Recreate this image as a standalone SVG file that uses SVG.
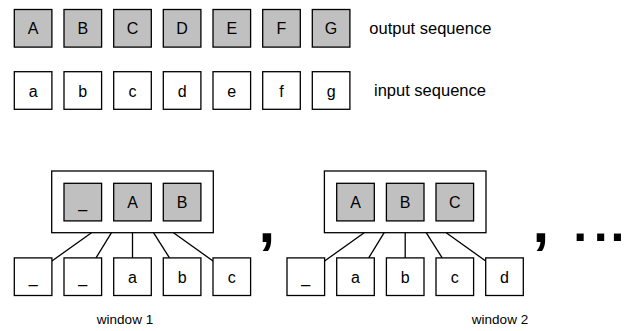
<svg xmlns="http://www.w3.org/2000/svg" width="629" height="331" viewBox="0 0 629 331">
<style>
.b{stroke:#000;stroke-width:1.3;}
.g{fill:#c0c0c0;}
.w{fill:#fff;}
.t{font-family:"Liberation Sans",Arial,sans-serif;font-size:16px;text-anchor:middle;fill:#000;}
.lab{font-family:"Liberation Sans",Arial,sans-serif;font-size:16.5px;fill:#000;}
.win{font-family:"Liberation Sans",Arial,sans-serif;font-size:13.5px;text-anchor:middle;fill:#000;}
.p{font-family:"Liberation Sans",Arial,sans-serif;font-size:50px;font-weight:bold;fill:#000;}
.cm{font-family:"Liberation Sans",Arial,sans-serif;font-size:60px;font-weight:bold;fill:#000;}
.c{stroke:#000;stroke-width:1.3;fill:none;}
</style>
<rect width="629" height="331" fill="#fff"/>
<g id="out">
<g id="oA"><rect class="b g" x="14.3" y="9.5" width="37.6" height="37.6"/><text class="t" x="33.1" y="34.3">A</text></g>
<g id="oB"><rect class="b g" x="64" y="9.5" width="37.6" height="37.6"/><text class="t" x="82.8" y="34.3">B</text></g>
<g id="oC"><rect class="b g" x="113.7" y="9.5" width="37.6" height="37.6"/><text class="t" x="132.5" y="34.3">C</text></g>
<g id="oD"><rect class="b g" x="163.3" y="9.5" width="37.6" height="37.6"/><text class="t" x="182.1" y="34.3">D</text></g>
<g id="oE"><rect class="b g" x="213" y="9.5" width="37.6" height="37.6"/><text class="t" x="231.8" y="34.3">E</text></g>
<g id="oF"><rect class="b g" x="262.7" y="9.5" width="37.6" height="37.6"/><text class="t" x="281.5" y="34.3">F</text></g>
<g id="oG"><rect class="b g" x="312.3" y="9.5" width="37.6" height="37.6"/><text class="t" x="331.1" y="34.3">G</text></g>
<text class="lab" x="369.3" y="33.5">output sequence</text>
</g>
<g id="in">
<g id="ia"><rect class="b w" x="14.3" y="71.7" width="37.6" height="37.6"/><text class="t" x="33.1" y="97">a</text></g>
<g id="ib"><rect class="b w" x="64" y="71.7" width="37.6" height="37.6"/><text class="t" x="82.8" y="97">b</text></g>
<g id="ic"><rect class="b w" x="113.7" y="71.7" width="37.6" height="37.6"/><text class="t" x="132.5" y="97">c</text></g>
<g id="id"><rect class="b w" x="163.3" y="71.7" width="37.6" height="37.6"/><text class="t" x="182.1" y="97">d</text></g>
<g id="ie"><rect class="b w" x="213" y="71.7" width="37.6" height="37.6"/><text class="t" x="231.8" y="97">e</text></g>
<g id="if"><rect class="b w" x="262.7" y="71.7" width="37.6" height="37.6"/><text class="t" x="281.5" y="97">f</text></g>
<g id="ig"><rect class="b w" x="312.3" y="71.7" width="37.6" height="37.6"/><text class="t" x="331.1" y="97">g</text></g>
<text class="lab" x="374" y="96.3">input sequence</text>
</g>
<g id="connectors">
<line class="c" x1="91.5" y1="232.7" x2="51.9" y2="261"/>
<line class="c" x1="111.5" y1="232.7" x2="96" y2="257.9"/>
<line class="c" x1="132.5" y1="232.7" x2="132.5" y2="257.9"/>
<line class="c" x1="153.5" y1="232.7" x2="169.5" y2="257.9"/>
<line class="c" x1="173.5" y1="232.7" x2="213" y2="261"/>
<line class="c" x1="364.2" y1="232.7" x2="324.6" y2="261"/>
<line class="c" x1="384.2" y1="232.7" x2="368.7" y2="257.9"/>
<line class="c" x1="405.2" y1="232.7" x2="405.2" y2="257.9"/>
<line class="c" x1="426.2" y1="232.7" x2="442.2" y2="257.9"/>
<line class="c" x1="446.2" y1="232.7" x2="485.7" y2="261"/>
</g>
<g id="window1">
<rect class="b w" x="51.7" y="171" width="161.6" height="61.7"/>
<g id="w1o1"><rect class="b g" x="64" y="183.3" width="37.6" height="37.6"/><text class="t" x="82.8" y="208">_</text></g>
<g id="w1o2"><rect class="b g" x="113.7" y="183.3" width="37.6" height="37.6"/><text class="t" x="132.5" y="208">A</text></g>
<g id="w1o3"><rect class="b g" x="163.3" y="183.3" width="37.6" height="37.6"/><text class="t" x="182.1" y="208">B</text></g>
<g id="w1i1"><rect class="b w" x="14.3" y="257.9" width="37.6" height="37.6"/><text class="t" x="33.1" y="282.5">_</text></g>
<g id="w1i2"><rect class="b w" x="64" y="257.9" width="37.6" height="37.6"/><text class="t" x="82.8" y="282.5">_</text></g>
<g id="w1i3"><rect class="b w" x="113.7" y="257.9" width="37.6" height="37.6"/><text class="t" x="132.5" y="282.5">a</text></g>
<g id="w1i4"><rect class="b w" x="163.3" y="257.9" width="37.6" height="37.6"/><text class="t" x="182.1" y="282.5">b</text></g>
<g id="w1i5"><rect class="b w" x="213" y="257.9" width="37.6" height="37.6"/><text class="t" x="231.8" y="282.5">c</text></g>
<text class="win" x="125" y="324">window 1</text>
</g>
<g id="window2">
<rect class="b w" x="324.4" y="171" width="161.6" height="61.7"/>
<g id="w2o1"><rect class="b g" x="336.7" y="183.3" width="37.6" height="37.6"/><text class="t" x="355.5" y="208">A</text></g>
<g id="w2o2"><rect class="b g" x="386.4" y="183.3" width="37.6" height="37.6"/><text class="t" x="405.2" y="208">B</text></g>
<g id="w2o3"><rect class="b g" x="436" y="183.3" width="37.6" height="37.6"/><text class="t" x="454.8" y="208">C</text></g>
<g id="w2i1"><rect class="b w" x="287" y="257.9" width="37.6" height="37.6"/><text class="t" x="305.8" y="282.5">_</text></g>
<g id="w2i2"><rect class="b w" x="336.7" y="257.9" width="37.6" height="37.6"/><text class="t" x="355.5" y="282.5">a</text></g>
<g id="w2i3"><rect class="b w" x="386.4" y="257.9" width="37.6" height="37.6"/><text class="t" x="405.2" y="282.5">b</text></g>
<g id="w2i4"><rect class="b w" x="436" y="257.9" width="37.6" height="37.6"/><text class="t" x="454.8" y="282.5">c</text></g>
<g id="w2i5"><rect class="b w" x="485.7" y="257.9" width="37.6" height="37.6"/><text class="t" x="504.5" y="282.5">d</text></g>
<text class="win" x="500" y="324">window 2</text>
</g>
<g id="separators">
<text class="cm" x="258.5" y="241.5">,</text>
<text class="cm" x="532.5" y="241.5">,</text>
<text class="p" x="573.2 593.8 610.5" y="240.7">...</text>
</g>
</svg>
